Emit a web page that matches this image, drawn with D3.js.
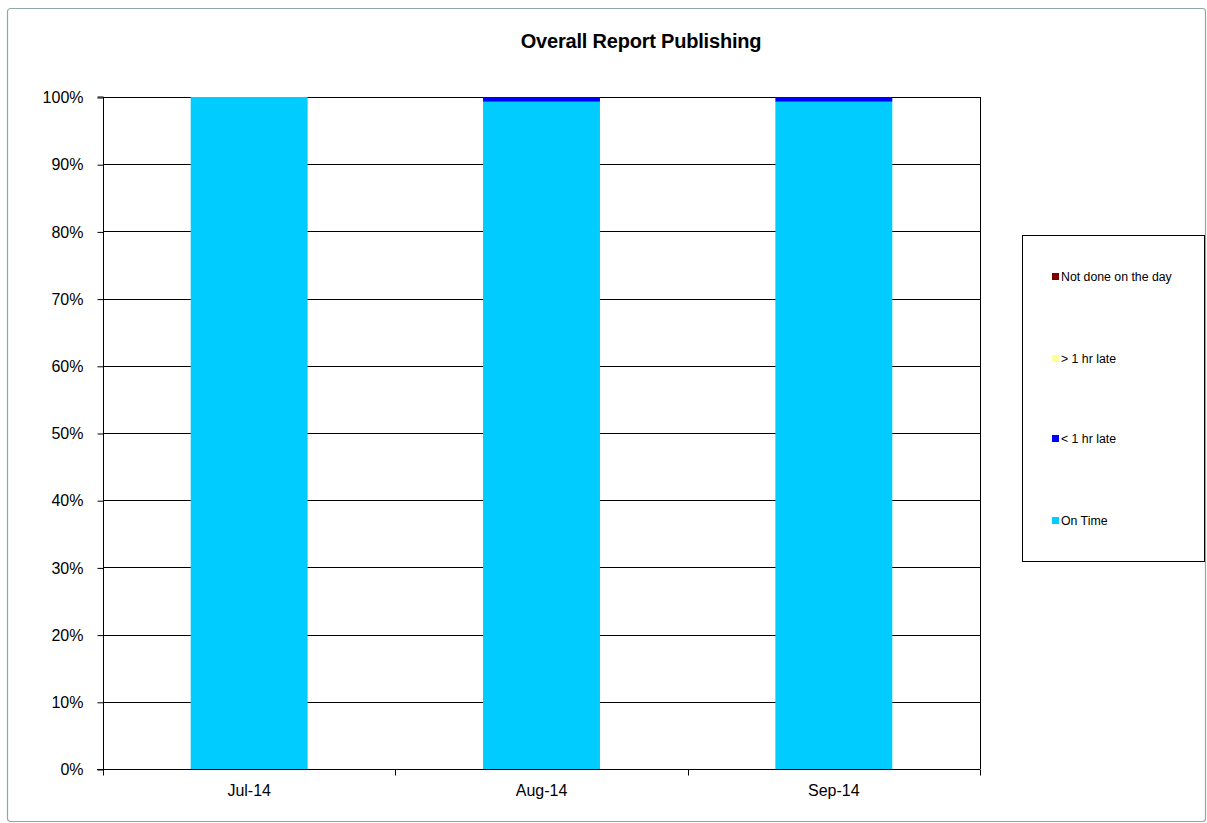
<!DOCTYPE html>
<html><head><meta charset="utf-8">
<script src="https://cdn.jsdelivr.net/npm/d3@7"></script>
<style>body{margin:0;background:#fff;}svg{display:block;font-family:"Liberation Sans",Arial,sans-serif;}</style>
</head><body>
<svg id="c" width="1207" height="823"></svg>
<script>
const categories = ["Jul-14", "Aug-14", "Sep-14"];
const seriesNames = ["On Time", "< 1 hr late", "> 1 hr late", "Not done on the day"];
const onTime = [100, 99.3, 99.3];
const lessThan1hr = [0, 0.7, 0.7];
const moreThan1hr = [0, 0, 0];
const notDone = [0, 0, 0];
const seriesColors = ["#00ccff", "#0000ff", "#ffff99", "#800000"];
const yTicks = [0,10,20,30,40,50,60,70,80,90,100];
const title = "Overall Report Publishing";

const rows = categories.map((c,i)=>({cat:c, "On Time":onTime[i], "< 1 hr late":lessThan1hr[i], "> 1 hr late":moreThan1hr[i], "Not done on the day":notDone[i]}));
const stack = d3.stack().keys(seriesNames)(rows);

const svg = d3.select("#c");
// outer border
svg.append("rect").attr("x",7.5).attr("y",8.5).attr("width",1198).attr("height",813).attr("rx",3)
  .attr("fill","#fff").attr("stroke","#8fa9a9").attr("stroke-width",1.2);

const L=103, R=980, T=97, B=769;
const x = d3.scaleBand().domain(categories).range([L,R]).paddingInner(0.6).paddingOuter(0.3);
const xb = d3.scaleBand().domain(categories).range([L,R]);
const y = d3.scaleLinear().domain([0,100]).range([B,T]);

svg.append("text").attr("x",641).attr("y",48).attr("text-anchor","middle")
  .attr("font-size","20px").attr("font-weight","bold").attr("letter-spacing","-0.2px").attr("fill","#000").text(title);

// gridlines
svg.append("g").selectAll("line").data(yTicks.filter(t=>t>0)).join("line")
  .attr("x1",L).attr("x2",R).attr("y1",d=>Math.round(y(d))+0.5).attr("y2",d=>Math.round(y(d))+0.5)
  .attr("stroke","#000").attr("stroke-width",1);
// right border of plot
svg.append("line").attr("x1",R+0.5).attr("x2",R+0.5).attr("y1",T).attr("y2",B).attr("stroke","#000");

// bars
svg.append("g").selectAll("g").data(stack).join("g").attr("fill",(d,i)=>seriesColors[i])
  .selectAll("rect").data(d=>d).join("rect")
  .attr("x",d=>x(d.data.cat)).attr("width",x.bandwidth())
  .attr("y",d=>y(d[1])).attr("height",d=>Math.max(0,y(d[0])-y(d[1])));

// y axis
const yAxis = d3.axisLeft(y).tickValues(yTicks).tickFormat(d=>d+"%").tickSize(6).tickPadding(14);
const gy = svg.append("g").attr("transform",`translate(${L+0.5},0.5)`).call(yAxis);
gy.select(".domain").attr("stroke","#000").attr("d",`M-6,${T-0.5}H0V${B-0.5}`);
gy.selectAll("line").attr("stroke","#000");
gy.selectAll("text").attr("font-size","16px").attr("fill","#000").attr("font-family","Liberation Sans, Arial, sans-serif");

// x axis
const gx = svg.append("g").attr("transform",`translate(0,${B+0.5})`);
gx.append("line").attr("x1",L-6).attr("x2",R).attr("stroke","#000");
const tickPos = categories.map(c=>xb(c)).concat([R]);
gx.selectAll("line.t").data(tickPos).join("line").attr("class","t")
  .attr("x1",d=>Math.round(d)+0.5).attr("x2",d=>Math.round(d)+0.5).attr("y1",0).attr("y2",6).attr("stroke","#000");
gx.selectAll("text").data(categories).join("text")
  .attr("x",d=>x(d)+x.bandwidth()/2).attr("y",26).attr("text-anchor","middle")
  .attr("font-size","16px").attr("fill","#000").text(d=>d);

// legend
svg.append("rect").attr("x",1022.5).attr("y",235.5).attr("width",182).attr("height",326)
  .attr("fill","#fff").attr("stroke","#000");
const legOrder = seriesNames.slice().reverse();
const legY = [277, 359, 439, 521];
const lg = svg.append("g").selectAll("g").data(legOrder).join("g")
  .attr("transform",(d,i)=>`translate(1052,${legY[i]})`);
lg.append("rect").attr("x",0).attr("y",-4).attr("width",7).attr("height",7)
  .attr("fill",d=>seriesColors[seriesNames.indexOf(d)]);
lg.append("text").attr("x",9).attr("y",4).attr("font-size","12.3px").attr("fill","#000").text(d=>d);
</script>
</body></html>
